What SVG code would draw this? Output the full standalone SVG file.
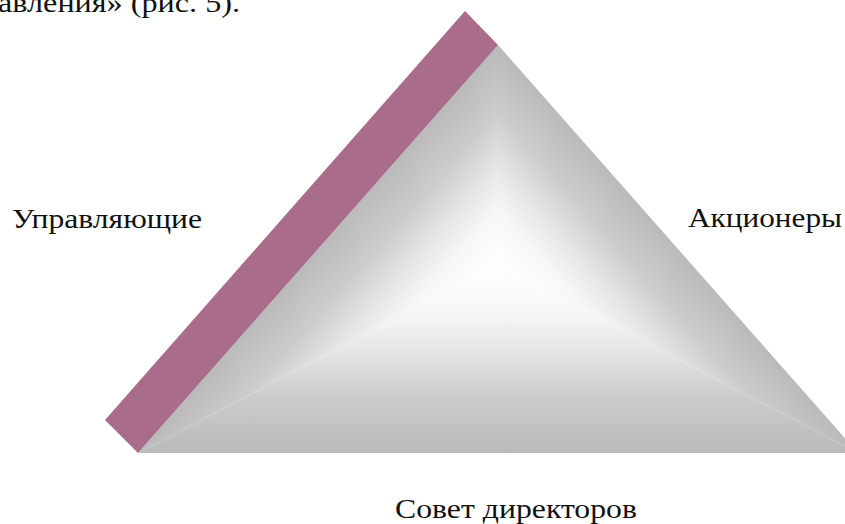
<svg xmlns="http://www.w3.org/2000/svg" width="845" height="524" viewBox="0 0 845 524">
<style>
.t{font-family:"Liberation Serif","DejaVu Serif",serif;font-size:28px;fill:#111}
</style>
<defs>
<linearGradient id="gB" gradientUnits="userSpaceOnUse" x1="498" y1="453" x2="498" y2="265">
<stop offset="0" stop-color="#bababa"/><stop offset="0.3" stop-color="#cccccc"/><stop offset="0.55" stop-color="#e6e6e6"/><stop offset="0.75" stop-color="#f7f7f7"/><stop offset="1" stop-color="#ffffff"/>
</linearGradient>
<linearGradient id="gL" gradientUnits="userSpaceOnUse" x1="388.9" y1="168.7" x2="498" y2="265">
<stop offset="0" stop-color="#bababa"/><stop offset="0.3" stop-color="#cccccc"/><stop offset="0.55" stop-color="#e6e6e6"/><stop offset="0.75" stop-color="#f7f7f7"/><stop offset="1" stop-color="#ffffff"/>
</linearGradient>
<linearGradient id="gR" gradientUnits="userSpaceOnUse" x1="607.1" y1="168.7" x2="498" y2="265">
<stop offset="0" stop-color="#bababa"/><stop offset="0.3" stop-color="#cccccc"/><stop offset="0.55" stop-color="#e6e6e6"/><stop offset="0.75" stop-color="#f7f7f7"/><stop offset="1" stop-color="#ffffff"/>
</linearGradient>
</defs>
<rect width="845" height="524" fill="#ffffff"/>
<text class="t" x="-2" y="12" textLength="242" lengthAdjust="spacingAndGlyphs">авления» (рис. 5).</text>
<g id="triangle">
<polygon points="498,265 138,453 858,453" fill="url(#gB)"/>
<polygon points="498,265 498,45 138,453" fill="url(#gL)"/>
<polygon points="498,265 498,45 858,453" fill="url(#gR)"/>
</g>
<g id="band">
<polygon points="465,11 498,45 138,453 105,420" fill="#a96c8a"/>
</g>
<g id="node-managers">
<text class="t" x="12" y="228" textLength="190" lengthAdjust="spacingAndGlyphs">Управляющие</text>
</g>
<g id="node-shareholders">
<text class="t" x="688" y="227" textLength="154" lengthAdjust="spacingAndGlyphs">Акционеры</text>
</g>
<g id="node-board">
<text class="t" x="395" y="518" textLength="242" lengthAdjust="spacingAndGlyphs">Совет директоров</text>
</g>
<g id="connectors"/>
</svg>
